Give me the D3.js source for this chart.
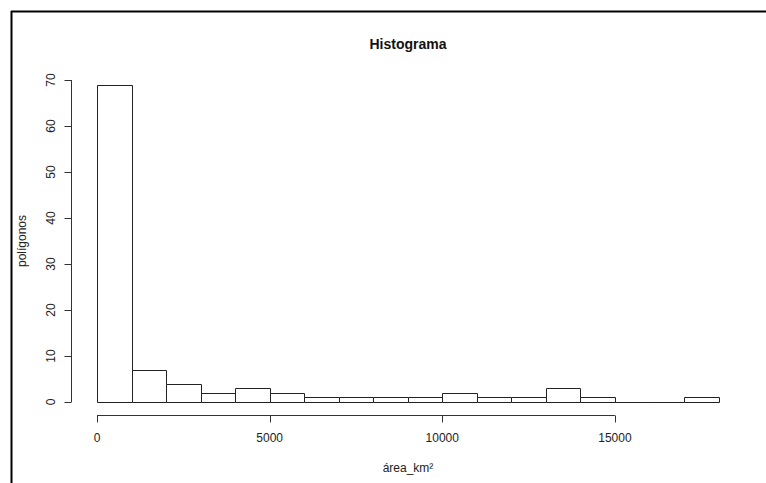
<!DOCTYPE html>
<html>
<head>
<meta charset="utf-8">
<script src="https://cdn.jsdelivr.net/npm/d3@7"></script>
<style>
  html, body { margin: 0; padding: 0; background: #fff; }
  svg { display: block; font-family: "Liberation Sans", Arial, sans-serif; }
</style>
</head>
<body>
<svg id="chart" width="766" height="483"></svg>
<script>
// Histogram bins (width 1000 km²) and counts of polygons per bin
const binEdges = [0, 1000, 2000, 3000, 4000, 5000, 6000, 7000, 8000, 9000, 10000,
                  11000, 12000, 13000, 14000, 15000, 16000, 17000, 18000];
const counts = [69, 7, 4, 2, 3, 2, 1, 1, 1, 1, 2, 1, 1, 3, 1, 0, 0, 1];
const xTicks = [0, 5000, 10000, 15000];
const yTicks = [0, 10, 20, 30, 40, 50, 60, 70];

const svg = d3.select("#chart");
const W = 766, H = 483;

// Frame lines along top and left edge
svg.append("line").attr("x1", 11).attr("x2", W).attr("y1", 11.5).attr("y2", 11.5)
  .attr("stroke", "#000").attr("stroke-width", 2);
svg.append("line").attr("x1", 11.5).attr("x2", 11.5).attr("y1", 11).attr("y2", H)
  .attr("stroke", "#000").attr("stroke-width", 2);

const x = d3.scaleLinear().domain([0, 18000]).range([97, 718.5]);
const y = d3.scaleLinear().domain([0, 70]).range([402, 80]);

const bins = counts.map((c, i) => ({ x0: binEdges[i], x1: binEdges[i + 1], n: c }));
const px = v => Math.round(x(v)) + 0.5;
const py = v => Math.round(y(v)) + 0.5;

// Bars drawn as closed paths so empty bins still show along the baseline
svg.append("g").selectAll("path").data(bins).join("path")
  .attr("d", d => `M${px(d.x0)},${py(0)}V${py(d.n)}H${px(d.x1)}V${py(0)}Z`)
  .attr("fill", "#fff").attr("stroke", "#222").attr("stroke-width", 1);

// x axis
const xAxis = svg.append("g").attr("transform", "translate(0,415.5)");
xAxis.append("line").attr("x1", x(0)).attr("x2", x(15000)).attr("stroke", "#333");
xAxis.selectAll("line.tick").data(xTicks).join("line").attr("class", "tick")
  .attr("x1", d => px(d)).attr("x2", d => px(d))
  .attr("y1", 0).attr("y2", 7).attr("stroke", "#333");
xAxis.selectAll("text").data(xTicks).join("text")
  .attr("x", d => x(d)).attr("y", 26).attr("text-anchor", "middle")
  .attr("font-size", 12).attr("fill", "#222").text(d => d);

// y axis
const yAxis = svg.append("g").attr("transform", "translate(71.5,0)");
yAxis.append("line").attr("y1", y(0)).attr("y2", y(70)).attr("stroke", "#333");
yAxis.selectAll("line.tick").data(yTicks).join("line").attr("class", "tick")
  .attr("y1", d => py(d)).attr("y2", d => py(d))
  .attr("x1", 0).attr("x2", -7).attr("stroke", "#333");
yAxis.selectAll("text").data(yTicks).join("text")
  .attr("transform", d => `translate(-17,${y(d)}) rotate(-90)`)
  .attr("text-anchor", "middle").attr("font-size", 12).attr("fill", "#222").text(d => d);

// Titles
svg.append("text").attr("x", 408).attr("y", 49).attr("text-anchor", "middle")
  .attr("font-size", 14).attr("font-weight", "bold").attr("fill", "#111").text("Histograma");
svg.append("text").attr("x", 408).attr("y", 472).attr("text-anchor", "middle")
  .attr("font-size", 12).attr("fill", "#222").text("área_km²");
svg.append("text").attr("transform", "translate(26,241) rotate(-90)")
  .attr("text-anchor", "middle").attr("font-size", 12).attr("fill", "#222").text("polígonos");
</script>
</body>
</html>
